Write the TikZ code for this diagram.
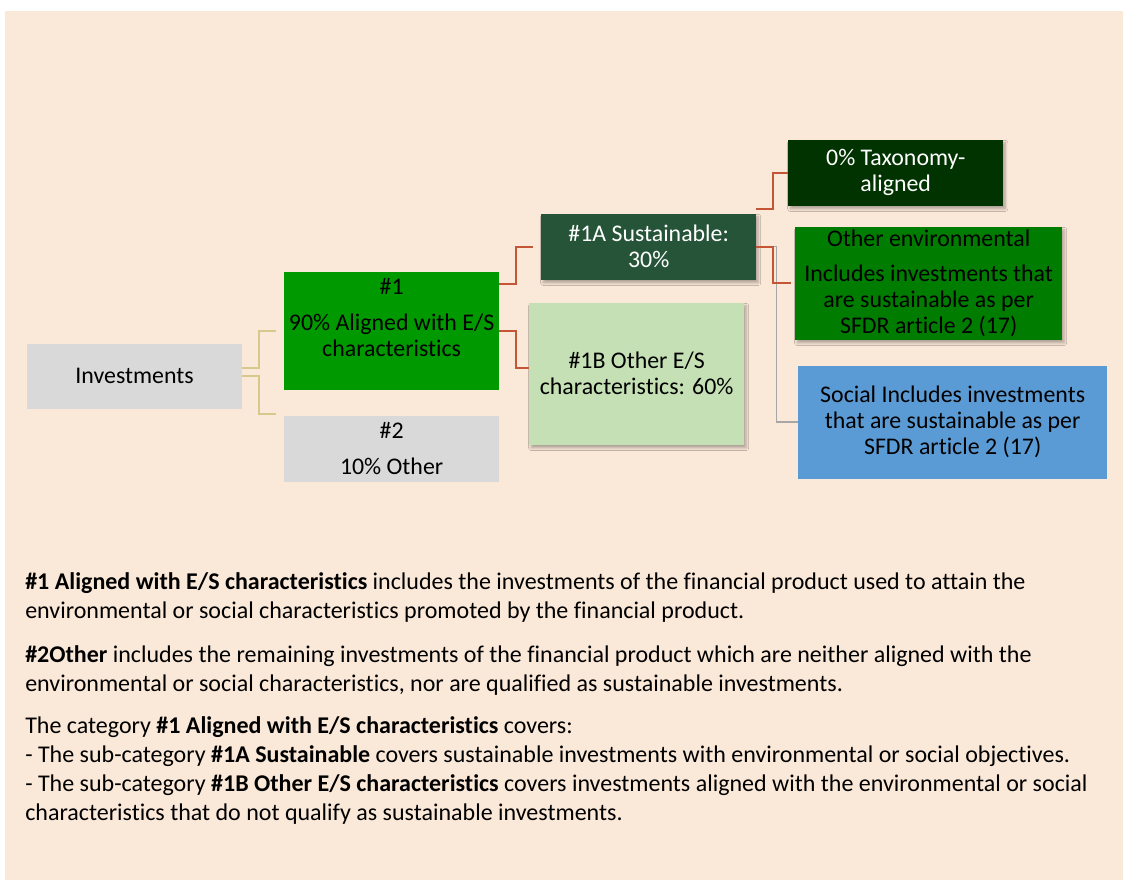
\documentclass[tikz,border=0pt]{standalone}
\usepackage{fontspec}
\setmainfont{Carlito}[Ligatures=NoCommon]
\usetikzlibrary{positioning,shadows.blur}

\definecolor{bgcol}{RGB}{250,232,216}
\definecolor{boxgray}{RGB}{217,217,217}
\definecolor{grA}{RGB}{0,153,0}
\definecolor{grSus}{RGB}{37,84,56}
\definecolor{grTax}{RGB}{0,51,0}
\definecolor{grEnv}{RGB}{0,125,0}
\definecolor{grLight}{RGB}{197,224,180}
\definecolor{blSoc}{RGB}{91,155,213}
\definecolor{lnTan}{RGB}{215,200,140}
\definecolor{lnRed}{RGB}{197,85,55}
\definecolor{lnGrey}{RGB}{166,166,166}

\begin{document}
\begin{tikzpicture}[x=1pt,y=1pt,on grid,
   box/.style={rectangle,minimum width=161.25pt,align=center,inner sep=2pt,
     font=\fontsize{17.9}{19.5}\selectfont},
   shad/.style={blur shadow={shadow xshift=1.5pt,shadow yshift=-2.5pt,
     shadow blur steps=6,shadow opacity=30}},
   tanline/.style={draw=lnTan,line width=1.5pt},
   redline/.style={draw=lnRed,line width=1.5pt},
   greyline/.style={draw=lnGrey,line width=1.2pt},
   para/.style={anchor=base west,align=left,inner sep=0pt,
     font=\fontsize{18}{21.75}\selectfont}]
   \useasboundingbox (0,0) rectangle (842.25,-660.75);
   \fill[bgcol] (3.75,-8.25) rectangle (842.25,-660);

   \node[box,fill=boxgray,minimum height=48.75pt] (inv) at (100.9,-282) {Investments};
   \node[box,fill=grA,minimum height=88.5pt] (a1) [above right=34.1pt and 192.8pt of inv]
      {\#1\\[8pt]90\% Aligned with E/S\\characteristics\\\mbox{}};
   \node[box,fill=boxgray,minimum height=49.5pt] (a2) [below=88.5pt of a1]
      {\#2\\[8pt]10\% Other};
   \node[box,shad,fill=grSus,text=white,minimum height=49.5pt] (s1a)
      [above right=63pt and 192.8pt of a1] {\#1A Sustainable:\\30\%};
   \node[box,shad,fill=grLight,minimum height=106.5pt] (s1b)
      [below right=32.3pt and 183.8pt of a1] {\#1B Other E/S\\characteristics: 60\%};
   \node[box,shad,fill=grTax,text=white,minimum height=49.5pt] (tax)
      [above right=55.5pt and 185.3pt of s1a] {0\% Taxonomy-\\aligned};
   \node[box,shad,fill=grEnv,minimum width=200.25pt,minimum height=84.75pt] (env)
      [below right=27.4pt and 210pt of s1a]
      {Other environmental\\[6.75pt]Includes investments that\\are sustainable as per\\SFDR article 2 (17)};
   \node[box,fill=blSoc,minimum width=231.75pt,minimum height=84.75pt] (soc)
      [below right=131.6pt and 228pt of s1a]
      {Social Includes investments\\that are sustainable as per\\SFDR article 2 (17)};

   % elbow connectors
   \draw[tanline] ([yshift=6pt]inv.east) -- ++(12.75,0) |- ([xshift=-6pt]a1.west);
   \draw[tanline] (inv.east) -- ++(12.75,0) |- ([xshift=-6pt,yshift=26.25pt]a2.west);
   \draw[redline] ([yshift=35.25pt]a1.east) -- ++(12.75,0) |- ([xshift=-6pt]s1a.west);
   \draw[redline] (a1.east) -- ++(12.75,0) |- ([yshift=4.5pt]s1b.west);
   \draw[greyline] ([xshift=3pt]s1a.east) -- ++(12,0) |- (soc.west);
   \draw[redline] ([yshift=3pt]s1a.north east) -- ++(12.75,0) |- (tax.west);
   \draw[redline] (s1a.east) -- ++(12.75,0) |- ([xshift=-3pt]env.west);

   % text below (anchored at the last baseline)
   \node[para] (p1) at (18.75,-463.5)
      {\textbf{\#1 Aligned with E/S characteristics} includes the investments of the financial product used to attain the\\
       environmental or social characteristics promoted by the financial product.};
   \node[para] (p2) at (18.75,-518.25)
      {\textbf{\#2Other} includes the remaining investments of the financial product which are neither aligned with the\\
       environmental or social characteristics, nor are qualified as sustainable investments.};
   \node[para] (p3) at (18.75,-615)
      {The category \textbf{\#1 Aligned with E/S characteristics} covers:\\
       - The sub-category \textbf{\#1A Sustainable} covers sustainable investments with environmental or social objectives.\\
       - The sub-category \textbf{\#1B Other E/S characteristics} covers investments aligned with the environmental or social\\
       characteristics that do not qualify as sustainable investments.};
\end{tikzpicture}
\end{document}
